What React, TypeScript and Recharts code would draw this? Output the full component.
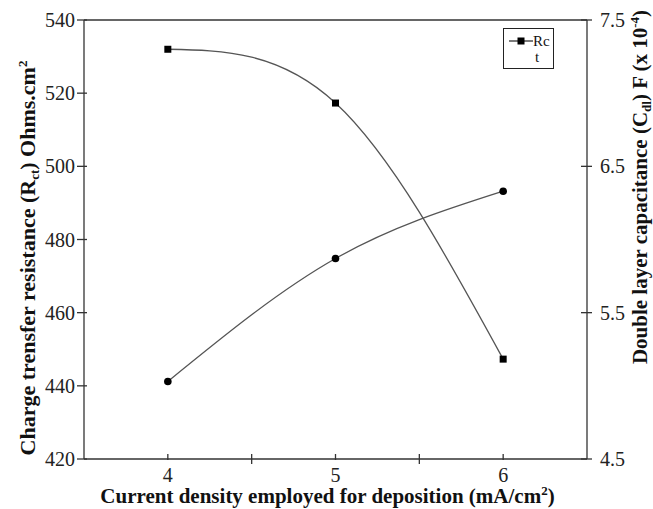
import { Label, Legend, Line, LineChart, ReferenceLine, XAxis, YAxis } from "recharts"

// current density (mA/cm2) vs Rct and Cdl
const currentDensity = [4, 5, 6]
const chargeTransferRes = [532, 517.3, 447.3]
const doubleLayerCap = [5.03, 5.87, 6.33]

const densityTicks = [4, 4.5, 5, 5.5, 6]
const rctTicks = [420, 440, 460, 480, 500, 520, 540]
const cdlTicks = [4.5, 5.5, 6.5, 7.5]

const data = currentDensity.map((x, i) => ({
  x,
  rct: chargeTransferRes[i],
  cdl: doubleLayerCap[i],
}))

const SERIF = "'Liberation Serif', 'Times New Roman', serif"
const AXIS = "#333"
const LINE = "#555"

const XTick = ({ x, y, payload }: any) => {
  const major = Number.isInteger(payload.value)
  return (
    <g>
      <line x1={x} x2={x} y1={y - 5} y2={major ? y + 1 : y + 5} stroke={AXIS} strokeWidth={1.3} />
      {major && (
        <text x={x} y={y + 23} textAnchor="middle" fontFamily={SERIF} fontSize={20} fill="#222">
          {payload.value}
        </text>
      )}
    </g>
  )
}

const LeftTick = ({ x, y, payload }: any) => (
  <g>
    <line x1={x - 7} x2={x + 3} y1={y} y2={y} stroke={AXIS} strokeWidth={1.3} />
    <text x={x - 9} y={y} dy="0.35em" textAnchor="end" fontFamily={SERIF} fontSize={20} fill="#222">
      {payload.value}
    </text>
  </g>
)

const RightTick = ({ x, y, payload }: any) => (
  <g>
    <line x1={x - 6} x2={x + 5} y1={y} y2={y} stroke={AXIS} strokeWidth={1.3} />
    <text x={x + 13} y={y} dy="0.35em" textAnchor="start" fontFamily={SERIF} fontSize={20} fill="#222">
      {payload.value.toFixed(1)}
    </text>
  </g>
)

const SquareDot = ({ cx, cy }: any) => (
  <rect x={cx - 3.5} y={cy - 3.5} width={7} height={7} fill="#000" />
)

const RoundDot = ({ cx, cy }: any) => <circle cx={cx} cy={cy} r={3.8} fill="#000" />

const titleProps = {
  fontFamily: SERIF,
  fontSize: 21,
  fontWeight: "bold" as const,
  fill: "#111",
  textAnchor: "middle" as const,
}

const XTitle = ({ viewBox }: any) => (
  <text x={viewBox.x + viewBox.width / 2 - 8} y={viewBox.y + 44} {...titleProps}>
    Current density employed for deposition (mA/cm
    <tspan fontSize={13} dy={-8}>2</tspan>
    <tspan dy={8}>)</tspan>
  </text>
)

const LeftTitle = ({ viewBox }: any) => {
  const cx = viewBox.x + 3
  const cy = 258
  return (
    <text x={cx} y={cy} dy="0.35em" transform={`rotate(-90 ${cx} ${cy})`} {...titleProps} fontSize={22}>
      Charge trensfer resistance (R
      <tspan fontSize={13} dy={4}>ct</tspan>
      <tspan dy={-4}>) Ohms.cm</tspan>
      <tspan fontSize={13} dy={-8}>2</tspan>
    </text>
  )
}

const RightTitle = ({ viewBox }: any) => {
  const cx = viewBox.x + 53
  const cy = 187
  return (
    <text x={cx} y={cy} dy="0.35em" transform={`rotate(-90 ${cx} ${cy})`} {...titleProps}>
      Double layer capacitance (C
      <tspan fontSize={13} dy={4}>dl</tspan>
      <tspan dy={-4}>) F (x 10</tspan>
      <tspan fontSize={13} dy={-8}>-4</tspan>
      <tspan dy={8}>)</tspan>
    </text>
  )
}

const LegendBox = () => (
  <div
    style={{
      border: "1.5px solid #222",
      width: 51,
      height: 41,
      background: "#fff",
      fontFamily: SERIF,
      fontSize: 15,
      color: "#111",
      lineHeight: "16px",
      padding: "4px 0 0 4px",
      boxSizing: "border-box",
    }}
  >
    <div style={{ display: "flex", alignItems: "center" }}>
      <svg width={25} height={10}>
        <line x1={1} x2={25} y1={5} y2={5} stroke="#333" strokeWidth={1.3} />
        <rect x={9.5} y={1.5} width={7} height={7} fill="#000" />
      </svg>
      <span>Rc</span>
    </div>
    <div style={{ paddingLeft: 27 }}>t</div>
  </div>
)

export default function App() {
  return (
    <div style={{ position: "absolute", left: 0, top: 0, background: "#fff" }}>
      <LineChart
        width={653}
        height={509}
        data={data}
        margin={{ top: 20, right: 16, bottom: 20, left: 24 }}
      >
        <XAxis
          dataKey="x"
          type="number"
          domain={[3.5, 6.5]}
          ticks={densityTicks}
          interval={0}
          height={30}
          tickSize={0}
          tickMargin={0}
          tickLine={false}
          axisLine={{ stroke: AXIS, strokeWidth: 1.3 }}
          tick={<XTick />}
        >
          <Label content={<XTitle />} />
        </XAxis>
        <YAxis
          yAxisId="rct"
          orientation="left"
          domain={[420, 540]}
          ticks={rctTicks}
          interval={0}
          width={60}
          tickSize={0}
          tickMargin={0}
          tickLine={false}
          axisLine={{ stroke: AXIS, strokeWidth: 1.3 }}
          tick={<LeftTick />}
        >
          <Label content={<LeftTitle />} />
        </YAxis>
        <YAxis
          yAxisId="cdl"
          orientation="right"
          domain={[4.5, 7.5]}
          ticks={cdlTicks}
          interval={0}
          width={50}
          tickSize={0}
          tickMargin={0}
          tickLine={false}
          axisLine={{ stroke: AXIS, strokeWidth: 1.3 }}
          tick={<RightTick />}
        >
          <Label content={<RightTitle />} />
        </YAxis>
        <ReferenceLine yAxisId="rct" y={540} stroke={AXIS} strokeWidth={1.3} />
        <Line
          yAxisId="rct"
          dataKey="rct"
          type="natural"
          stroke={LINE}
          strokeWidth={1.3}
          dot={<SquareDot />}
          activeDot={false}
          isAnimationActive={false}
        />
        <Line
          yAxisId="cdl"
          dataKey="cdl"
          type="natural"
          stroke={LINE}
          strokeWidth={1.3}
          dot={<RoundDot />}
          activeDot={false}
          isAnimationActive={false}
        />
        <Legend
          layout="horizontal"
          verticalAlign="middle"
          align="center"
          content={<LegendBox />}
          wrapperStyle={{ left: 503, top: 28, width: "auto", height: "auto" }}
        />
      </LineChart>
    </div>
  )
}
